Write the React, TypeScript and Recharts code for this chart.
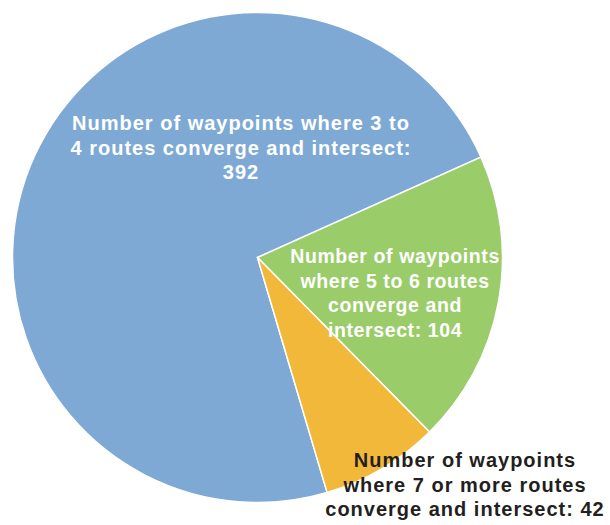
import { PieChart, Pie, Cell } from 'recharts';

const categories = ['3 to 4 routes', '5 to 6 routes', '7 or more routes'];
const counts = [392, 104, 42];
const labelLines = [
  ['Number of waypoints where 3 to', '4 routes converge and intersect:', '392'],
  ['Number of waypoints', 'where 5 to 6 routes', 'converge and', 'intersect: 104'],
  ['Number of waypoints', 'where 7 or more routes', 'converge and intersect: 42'],
];

const colors = ['#7EA9D5', '#9ACC6A', '#F2B83A'];
const labelColors = ['#ffffff', '#ffffff', '#231F20'];
// where each label block sits, polar around the pie centre (deg, fraction of radius)
const labelAngles = [97.4, -2.4, -45.3];
const labelRadii = [0.523, 0.562, 1.204];
const labelFontSizes = [20, 19.5, 20];

const data = categories.map((name, i) => ({ name, value: counts[i] }));

const RADIAN = Math.PI / 180;

function renderLabel(props: any) {
  const { cx, cy, outerRadius, index } = props;
  const r = outerRadius * labelRadii[index];
  const x = cx + r * Math.cos(labelAngles[index] * RADIAN);
  const y = cy - r * Math.sin(labelAngles[index] * RADIAN);
  return (
    <text
      x={x}
      y={y}
      textAnchor="middle"
      fill={labelColors[index]}
      fontFamily="'Liberation Sans', Arial, sans-serif"
      fontWeight="bold"
      fontSize={labelFontSizes[index]}
      letterSpacing={index === 1 ? 0.6 : 1}
    >
      {labelLines[index].map((line, j) => (
        <tspan key={j} x={x} dy={j === 0 ? 0 : 24.5}>
          {line}
        </tspan>
      ))}
    </text>
  );
}

export default function App() {
  return (
    <div style={{ position: 'absolute', left: 0, top: 0, background: '#fff' }}>
      <PieChart width={610} height={525} margin={{ top: 0, right: 0, bottom: 0, left: 0 }}>
        <Pie
          data={data}
          dataKey="value"
          nameKey="name"
          cx={257.5}
          cy={257.5}
          outerRadius={245}
          startAngle={286.5}
          endAngle={-73.5}
          stroke="#ffffff"
          strokeWidth={1.5}
          label={renderLabel}
          labelLine={false}
          isAnimationActive={false}
        >
          {data.map((d, i) => (
            <Cell key={d.name} fill={colors[i]} />
          ))}
        </Pie>
      </PieChart>
    </div>
  );
}
